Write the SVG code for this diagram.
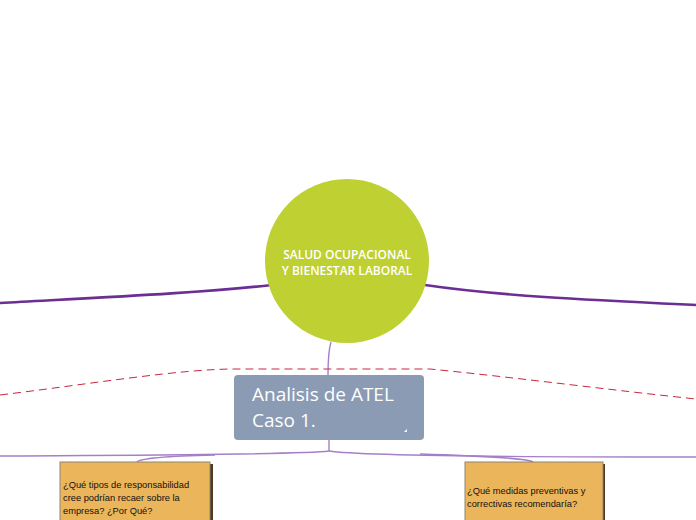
<svg xmlns="http://www.w3.org/2000/svg" width="696" height="520" viewBox="0 0 696 520">
<style>
.main{fill:none;stroke:#6a2e94;stroke-width:2.6;stroke-linecap:round}
.thin{fill:none;stroke:#a57fc8;stroke-width:1.4}
.dash{fill:none;stroke:#c9263f;stroke-width:1;stroke-dasharray:8 5}
.q{font-family:"Liberation Sans",Arial,sans-serif;font-size:9.3px;fill:#111111}
.t{font-family:"Open Sans","Liberation Sans",sans-serif;fill:#ffffff}
.ob{fill:#ebb55b;stroke:#8e8672;stroke-width:1}
.sh{fill:#4a3b22}
</style>
<rect width="696" height="520" fill="#ffffff"/>
<g id="connectors">
<path class="main" d="M0,303 C110,297 200,293 272,285"/>
<path class="main" d="M425,285 C500,296 590,300 696,305"/>
<path class="thin" d="M331,342 C328,352 328,364 328,375"/>
<path class="dash" d="M0,395 C90,384 180,369 235,369 L430,369 C520,378 610,390 696,399"/>
<path class="thin" d="M329,440 L329,451"/>
<path class="thin" d="M329,451 C300,455 120,455 0,456"/>
<path class="thin" d="M329,451 C360,456 560,457 696,457"/>
<path class="thin" d="M215,455 C170,456 140,458 137,462"/>
<path class="thin" d="M420,454 C480,456 528,458 533,462"/>
</g>
<g id="center">
<circle cx="347" cy="261" r="82" fill="#bfd032"/>
<text class="t" x="347" y="259" text-anchor="middle" font-size="12" font-weight="600">SALUD OCUPACIONAL</text>
<text class="t" x="347" y="275" text-anchor="middle" font-size="12" font-weight="600">Y BIENESTAR LABORAL</text>
</g>
<g id="atel">
<rect x="234" y="375" width="190" height="65" rx="4" fill="#8a9bb3"/>
<text class="t" x="252" y="401" font-size="19">Analisis de ATEL</text>
<text class="t" x="252" y="427" font-size="19">Caso 1.</text>
<path d="M404,432 L407,429 L407,432 Z" fill="#ffffff"/>
</g>
<g id="q1">
<rect class="sh" x="62" y="464" width="151" height="60"/>
<rect class="ob" x="60" y="462" width="150" height="60"/>
<text class="q" x="63" y="488">¿Qué tipos de responsabilidad</text>
<text class="q" x="63" y="501">cree podrían recaer sobre la</text>
<text class="q" x="63" y="514">empresa? ¿Por Qué?</text>
</g>
<g id="q2">
<rect class="sh" x="467" y="464" width="138" height="60"/>
<rect class="ob" x="465" y="462" width="138" height="60"/>
<text class="q" x="467" y="494">¿Qué medidas preventivas y</text>
<text class="q" x="467" y="507">correctivas recomendaría?</text>
</g>
</svg>
